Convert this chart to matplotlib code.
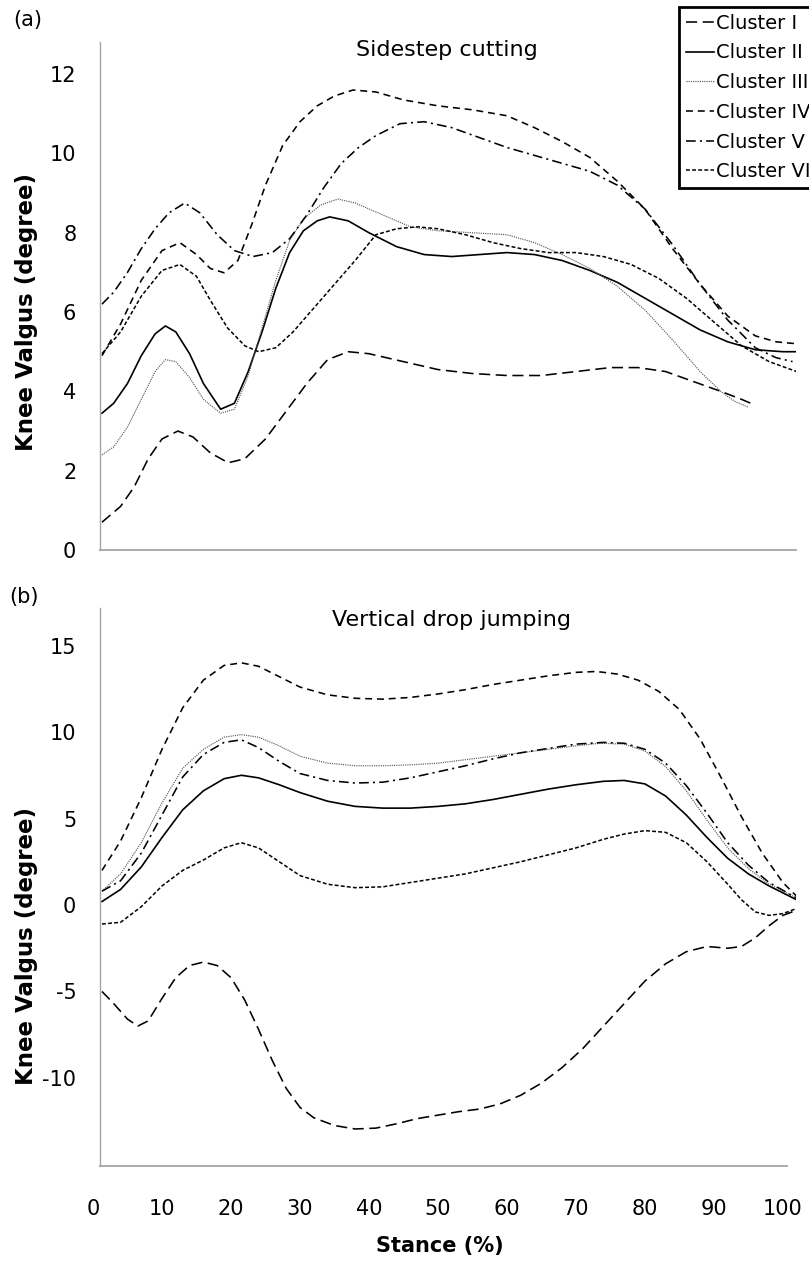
import matplotlib
matplotlib.use("Agg")
import matplotlib.pyplot as plt

plt.rcParams['font.family'] = ['DejaVu Sans']
plt.rcParams['lines.scale_dashes'] = False

# ---------------- data: (a) Sidestep cutting ----------------
a_x1 = [1.3, 4, 6, 8, 10, 12.3, 14.5, 17, 19.6, 22, 25, 28, 31, 34, 37, 40, 45, 50, 55, 60, 65, 70, 75, 79, 83, 87, 91, 94, 96]
a_y1 = [0.7, 1.1, 1.6, 2.3, 2.8, 3.0, 2.85, 2.45, 2.2, 2.3, 2.8, 3.5, 4.2, 4.8, 5.0, 4.95, 4.75, 4.55, 4.45, 4.4, 4.4, 4.5, 4.6, 4.6, 4.5, 4.25, 4.0, 3.8, 3.65]

a_x2 = [1.3, 3, 5, 7, 9, 10.5, 12, 14, 16, 18.5, 20.5, 22.5, 24.5, 26.5, 28.5, 30.5, 32.5, 34.3, 37, 40, 44, 48, 52, 56, 60, 64, 68, 72, 76, 80, 84, 88, 92, 96, 100, 102]
a_y2 = [3.45, 3.7, 4.2, 4.9, 5.45, 5.65, 5.5, 4.95, 4.2, 3.55, 3.7, 4.5, 5.5, 6.6, 7.5, 8.05, 8.3, 8.4, 8.3, 8.0, 7.65, 7.45, 7.4, 7.45, 7.5, 7.45, 7.3, 7.05, 6.75, 6.35, 5.95, 5.55, 5.25, 5.05, 5.0, 5.0]

a_x3 = [1.3, 3, 5, 7, 9, 10.5, 12, 14, 16, 18.5, 20.5, 22.5, 24.5, 26.5, 28.5, 30.5, 33, 35.5, 38, 42, 46, 50, 55, 60, 64, 68, 72, 76, 80, 84, 88, 91, 93, 95]
a_y3 = [2.4, 2.6, 3.1, 3.8, 4.5, 4.8, 4.75, 4.35, 3.8, 3.45, 3.55, 4.4, 5.6, 6.8, 7.8, 8.35, 8.7, 8.85, 8.75, 8.45, 8.15, 8.05, 8.0, 7.95, 7.75, 7.45, 7.1, 6.65, 6.05, 5.3, 4.5, 4.0, 3.75, 3.6]

a_x4 = [1.3, 4, 7, 10, 12.6, 15, 17, 19, 21, 23, 25, 27.5, 30, 32.5, 35, 37.7, 41, 45, 50, 55, 60, 64, 68, 72, 76, 80, 84, 88, 92, 96, 99, 102]
a_y4 = [4.9, 5.7, 6.8, 7.55, 7.75, 7.45, 7.1, 6.99, 7.3, 8.2, 9.2, 10.2, 10.8, 11.2, 11.45, 11.6, 11.55, 11.35, 11.2, 11.1, 10.95, 10.65, 10.3, 9.9, 9.3, 8.6, 7.6, 6.7, 5.9, 5.4, 5.25, 5.2]

a_x5 = [1.3, 3, 5, 7, 9, 11, 13.3, 15.5, 18, 20.5, 23.2, 26, 28.5, 31, 33.5, 36, 38.5, 41, 44.5, 48, 52, 56, 60, 64, 68, 72, 76, 80, 84, 88, 92, 96, 99, 101.4]
a_y5 = [6.2, 6.5, 7.0, 7.6, 8.1, 8.5, 8.75, 8.5, 7.95, 7.55, 7.4, 7.5, 7.85, 8.45, 9.15, 9.75, 10.15, 10.45, 10.75, 10.8, 10.65, 10.4, 10.15, 9.95, 9.75, 9.55, 9.2, 8.6, 7.7, 6.7, 5.8, 5.1, 4.85, 4.75]

a_x6 = [1.3, 4, 7, 10, 12.6, 15, 17, 19.5, 22, 24, 26.5, 29, 32, 35, 38, 41, 44, 47, 50, 54, 58, 62, 66, 70, 74, 78, 82, 86, 90, 94, 98, 102]
a_y6 = [4.95, 5.5, 6.4, 7.05, 7.2, 6.9, 6.3, 5.6, 5.15, 5.0, 5.1, 5.5, 6.1, 6.7, 7.3, 7.95, 8.1, 8.15, 8.1, 7.95, 7.75, 7.6, 7.5, 7.5, 7.4, 7.2, 6.85, 6.35, 5.75, 5.15, 4.75, 4.5]

# ---------------- data: (b) Vertical drop jumping ----------------
b_x1 = [1.3, 3, 5, 6.5, 8, 10, 12, 14, 16, 18, 20, 22, 24, 26, 28, 30, 32, 35, 38, 41, 44, 47, 50, 53, 56, 59, 62, 65, 68, 71, 74, 77, 80, 83, 86, 89, 92, 94, 96, 98, 100, 102]
b_y1 = [-5.0, -5.7, -6.6, -7.0, -6.7, -5.4, -4.2, -3.5, -3.3, -3.5, -4.2, -5.5, -7.2, -9.0, -10.6, -11.7, -12.3, -12.75, -12.95, -12.9, -12.65, -12.35, -12.15, -11.95, -11.8, -11.5, -11.0, -10.3, -9.4, -8.3, -7.0, -5.7, -4.4, -3.4, -2.7, -2.4, -2.5, -2.4, -1.9, -1.2, -0.6, -0.3]

b_x2 = [1.3, 4, 7, 10, 13, 16, 19, 21.5, 24, 27, 30, 34, 38, 42, 46, 50, 54, 58, 62, 66, 70, 74, 77, 80, 83, 86, 89, 92, 95, 98, 102]
b_y2 = [0.2, 0.9, 2.2, 3.9, 5.5, 6.6, 7.3, 7.5, 7.35, 6.95, 6.5, 6.0, 5.7, 5.6, 5.6, 5.7, 5.85, 6.1, 6.4, 6.7, 6.95, 7.15, 7.2, 7.0, 6.3, 5.2, 3.9, 2.7, 1.8, 1.1, 0.3]

b_x3 = [1.3, 4, 7, 10, 13, 16, 19, 21.5, 24, 27, 30, 34, 38, 42, 46, 50, 54, 58, 62, 66, 70, 73.5, 77, 80, 83, 86, 89, 92, 95, 98, 102]
b_y3 = [0.8, 1.8, 3.6, 5.9, 7.9, 9.0, 9.7, 9.85, 9.7, 9.2, 8.6, 8.2, 8.05, 8.05, 8.1, 8.2, 8.4, 8.6, 8.8, 9.0, 9.2, 9.35, 9.3, 8.9, 8.0, 6.6, 4.9, 3.3, 2.1, 1.2, 0.4]

b_x4 = [1.3, 4, 7, 10, 13, 16, 19, 21.5, 24, 27, 30, 34, 38, 42, 46, 50, 54, 58, 62, 66, 70, 73, 76, 79, 82, 85, 88, 91, 94, 97, 100, 102]
b_y4 = [2.0, 3.7, 6.2, 9.0, 11.4, 13.0, 13.85, 14.0, 13.8, 13.2, 12.6, 12.15, 11.95, 11.9, 12.0, 12.2, 12.45, 12.75, 13.0, 13.25, 13.45, 13.5, 13.35, 13.0, 12.35, 11.3, 9.6, 7.4, 5.1, 3.0, 1.3, 0.5]

b_x5 = [1.3, 4, 7, 10, 13, 16, 19, 21.5, 24, 27, 30, 34, 38, 42, 46, 50, 54, 58, 62, 66, 70, 74, 77, 80, 83, 86, 89, 92, 95, 98, 102]
b_y5 = [0.8, 1.4, 3.0, 5.2, 7.4, 8.7, 9.4, 9.55, 9.1, 8.3, 7.6, 7.2, 7.05, 7.1, 7.35, 7.7, 8.05, 8.45, 8.8, 9.05, 9.3, 9.4, 9.35, 9.0, 8.2, 6.9, 5.3, 3.6, 2.3, 1.3, 0.4]

b_x6 = [1.3, 4, 7, 10, 13, 16, 19, 21.5, 24, 27, 30, 34, 38, 42, 46, 50, 54, 58, 62, 66, 70, 74, 77, 80, 83, 86, 89, 92, 94, 96, 98, 100, 102]
b_y6 = [-1.1, -1.0, -0.1, 1.1, 2.0, 2.6, 3.3, 3.6, 3.3, 2.5, 1.7, 1.2, 1.0, 1.05, 1.3, 1.55, 1.8, 2.15, 2.5, 2.9, 3.3, 3.8, 4.1, 4.3, 4.2, 3.6, 2.5, 1.2, 0.3, -0.4, -0.6, -0.5, -0.2]

labels = ['Cluster I', 'Cluster II', 'Cluster III', 'Cluster IV', 'Cluster V', 'Cluster VI']
x_ticks = [0, 10, 20, 30, 40, 50, 60, 70, 80, 90, 100]
a_yticks = [0, 2, 4, 6, 8, 10, 12]
b_yticks = [-10, -5, 0, 5, 10, 15]

styles = [
    dict(color='black', lw=1.15, ls=(0, (8, 4))),
    dict(color='black', lw=1.2, ls='-'),
    dict(color='#555555', lw=0.85, ls=(0, (0.8, 0.8))),
    dict(color='black', lw=1.15, ls=(0, (5, 3.5))),
    dict(color='black', lw=1.15, ls=(0, (7, 3, 1.5, 3))),
    dict(color='black', lw=1.1, ls=(0, (2.8, 1.6))),
]

W, H = 809, 1266
fig = plt.figure(figsize=(W / 100, H / 100), dpi=100)

def px_axes(l, r, t, b):
    return fig.add_axes([l / W, 1 - b / H, (r - l) / W, (b - t) / H])

axA = px_axes(93, 796, 42, 550)
axB = px_axes(93, 796, 608, 1166)

a_series = [(a_x1, a_y1), (a_x2, a_y2), (a_x3, a_y3), (a_x4, a_y4), (a_x5, a_y5), (a_x6, a_y6)]
b_series = [(b_x1, b_y1), (b_x2, b_y2), (b_x3, b_y3), (b_x4, b_y4), (b_x5, b_y5), (b_x6, b_y6)]

handles = []
for (x, y), st, lab in zip(a_series, styles, labels):
    h, = axA.plot(x, y, label=lab, **st)
    handles.append(h)
for (x, y), st in zip(b_series, styles):
    axB.plot(x, y, **st)

axis_grey = '#a6a6a6'
for ax in (axA, axB):
    ax.set_xlim(0, 101.9)
    for s in ('top', 'right'):
        ax.spines[s].set_visible(False)
    ax.spines['left'].set_position(('data', 1.0))
    ax.spines['left'].set_color(axis_grey)
    ax.spines['bottom'].set_color(axis_grey)
    ax.spines['left'].set_linewidth(1.0)
    ax.spines['bottom'].set_linewidth(1.3)
    ax.tick_params(axis='both', length=0, labelsize=15)
    ax.tick_params(axis='y', pad=17)

axA.set_ylim(0, 12.81)
axA.set_yticks(a_yticks)
axA.set_xticks([])
axA.spines['bottom'].set_bounds(1.0, 101.9)

axB.set_ylim(-15.09, 17.17)
axB.set_yticks(b_yticks)
axB.set_yticklabels([str(v) for v in b_yticks])
axB.set_xticks(x_ticks)
axB.tick_params(axis='x', pad=24)
axB.spines['bottom'].set_bounds(1.0, 100.6)

# titles inside axes
fig.text(447 / W, 1 - 50 / H, 'Sidestep cutting', ha='center', va='center', fontsize=16)
fig.text(452 / W, 1 - 620 / H, 'Vertical drop jumping', ha='center', va='center', fontsize=16)

# panel letters
fig.text(28 / W, 1 - 20 / H, '(a)', ha='center', va='center', fontsize=15)
fig.text(24 / W, 1 - 597 / H, '(b)', ha='center', va='center', fontsize=15)

# axis labels
fig.text(27 / W, 1 - 312 / H, 'Knee Valgus (degree)', rotation=90, ha='center', va='center',
         fontsize=16.5, fontweight='bold')
fig.text(27 / W, 1 - 946 / H, 'Knee Valgus (degree)', rotation=90, ha='center', va='center',
         fontsize=16.5, fontweight='bold')
fig.text(440 / W, 1 - 1246 / H, 'Stance (%)', ha='center', va='center', fontsize=15, fontweight='bold')

leg = fig.legend(handles=handles, labels=labels, loc='upper left',
                 bbox_to_anchor=(679 / W, 1 - 7 / H), bbox_transform=fig.transFigure,
                 fontsize=14, frameon=True, fancybox=False, framealpha=1,
                 edgecolor='black', handlelength=1.45, handletextpad=0.12,
                 labelspacing=0.55, borderpad=0.35, borderaxespad=0)
leg.get_frame().set_linewidth(2.0)

fig.savefig('out.png', dpi=100)
